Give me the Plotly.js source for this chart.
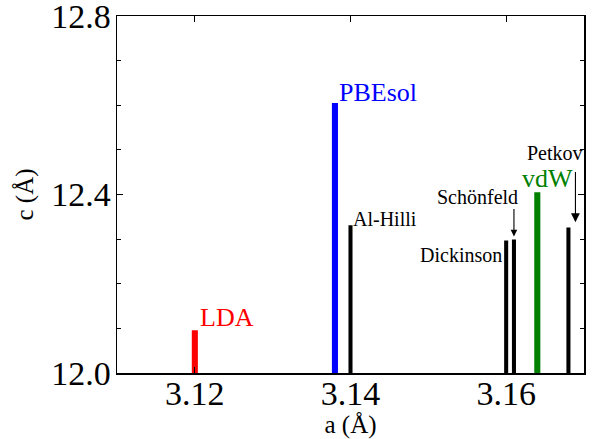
<!DOCTYPE html>
<html>
<head>
<meta charset="utf-8">
<script src="https://cdn.plot.ly/plotly-3.0.1.min.js"></script>
<style>html,body{margin:0;padding:0;background:#fff;}#chart{width:592px;height:439px;}
#fontwarm{position:absolute;left:-2000px;top:0;font-family:'Liberation Serif';font-size:30px;}</style>
</head>
<body>
<div id="fontwarm">12.8 3.14 a (Å) Schönfeld PBEsol</div>
<div id="chart"></div>
<script>
// Data
const labels = ['LDA', 'PBEsol', 'Al-Hilli', 'Dickinson', 'Schönfeld', 'vdW', 'Petkov'];
const aValues = [3.120, 3.138, 3.140, 3.160, 3.161, 3.164, 3.168];
const cValues = [12.096, 12.605, 12.331, 12.297, 12.299, 12.405, 12.326];
const barColors = ['#ff0000', '#0000ff', '#000000', '#000000', '#000000', '#008000', '#000000'];
const xTickVals = [3.12, 3.14, 3.16];
const xTickText = ['3.12', '3.14', '3.16'];
const yTickVals = [12.0, 12.4, 12.8];
const yTickText = ['12.0', '12.4', '12.8'];

const FONT = 'Liberation Serif';
const isBlack = labels.map((_, i) => barColors[i] === '#000000');

const trace = {
  type: 'bar',
  x: aValues,
  y: cValues,
  width: isBlack.map(b => b ? 0.00052 : 0.00078),
  marker: {color: barColors, line: {width: 0}},
  hoverinfo: 'x+y+text',
  text: labels,
  textposition: 'none'
};

function lab(i, x, y, xanchor, size) {
  return {text: labels[i], x: x, y: y, xref: 'x', yref: 'y', xanchor: xanchor, yanchor: 'middle',
          showarrow: false, borderpad: 0, borderwidth: 0,
          font: {family: FONT, size: size, color: barColors[i]}};
}
function arrow(x, y0, y1, head, size) {
  return {text: '', x: x, y: y1, ax: x, ay: y0, xref: 'x', yref: 'y', axref: 'x', ayref: 'y',
          showarrow: true, arrowhead: head, arrowsize: size, arrowwidth: 1.1, arrowcolor: '#000', standoff: 0, startstandoff: 0};
}

const annotations = [
  lab(0, 3.1207, 12.125, 'left', 26),
  lab(1, 3.13856, 12.628, 'left', 26),
  lab(2, 3.14036, 12.3455, 'left', 20),
  lab(3, 3.15949, 12.264, 'right', 20),
  lab(4, 3.16155, 12.395, 'right', 20),
  lab(5, 3.16206, 12.435, 'left', 26),
  lab(6, 3.16270, 12.492, 'left', 20),
  arrow(3.1610, 12.371, 12.306, 2, 1.2),
  arrow(3.1689, 12.454, 12.338, 2, 1.6)
];

const layout = {
  width: 592, height: 439,
  margin: {l: 117, r: 8, t: 16, b: 66},
  paper_bgcolor: '#fff', plot_bgcolor: '#fff',
  showlegend: false,
  barmode: 'overlay',
  font: {family: FONT, color: '#000'},
  xaxis: {
    range: [3.11, 3.17], tickvals: xTickVals, ticktext: xTickText,
    tickfont: {family: FONT, size: 34, color: '#000'}, ticks: 'inside', ticklen: 6, tickwidth: 1.2, tickcolor: '#000',
    showline: true, linecolor: '#000', linewidth: 1.5, mirror: 'ticks', showgrid: false, zeroline: false,
    ticklabeloverflow: 'allow', ticklabelstandoff: -10,
    title: {text: 'a (Å)', font: {family: FONT, size: 25, color: '#000'}, standoff: 14}
  },
  yaxis: {
    range: [11.9999, 12.8001], tickvals: yTickVals, ticktext: yTickText,
    tickfont: {family: FONT, size: 34, color: '#000'}, ticks: 'inside', ticklen: 6, tickwidth: 1.2, tickcolor: '#000',
    minor: {dtick: 0.1, ticks: 'inside', ticklen: 4, tickwidth: 1, tickcolor: '#000', showgrid: false},
    showline: true, linecolor: '#000', linewidth: 1.5, mirror: 'ticks', showgrid: false, zeroline: false,
    ticklabeloverflow: 'allow', ticklabelstandoff: -2,
    title: {text: 'c (Å)', font: {family: FONT, size: 25, color: '#000'}, standoff: 10}
  },
  annotations: annotations
};

function draw() {
  Plotly.newPlot('chart', [trace], layout, {displayModeBar: false, staticPlot: true});
}
if (document.fonts && document.fonts.load) {
  document.fonts.load('30px "Liberation Serif"').then(draw, draw);
} else {
  draw();
}
</script>
</body>
</html>
